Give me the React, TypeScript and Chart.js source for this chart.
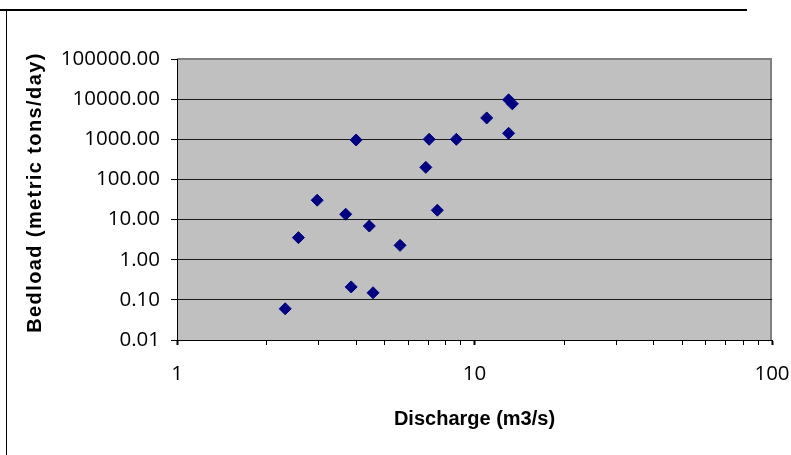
import React, { useEffect, useRef } from 'react';
import { Chart, registerables } from 'chart.js';

Chart.register(...registerables);

// Data
const discharge = [2.31, 2.56, 2.96, 3.69, 3.85, 4.0, 4.43, 4.56, 5.62, 6.86, 7.04, 7.5, 8.69, 10.99, 13.02, 13.02, 13.4];
const bedload = [0.06, 3.55, 30.4, 13.6, 0.21, 960, 6.9, 0.15, 2.28, 200, 1000, 17.1, 1000, 3400, 1410, 9600, 7630];

const yTicks = [0.01, 0.1, 1, 10, 100, 1000, 10000, 100000];
const xMajorTicks = [1, 10, 100];
const xTitle = 'Discharge (m3/s)';
const yTitle = 'Bedload (metric tons/day)';

const xTickValues: number[] = [];
for (let i = 0; i < xMajorTicks.length - 1; i++) {
  for (let m = 1; m <= 9; m++) xTickValues.push(xMajorTicks[i] * m);
}
xTickValues.push(xMajorTicks[xMajorTicks.length - 1]);

const tickFont = { family: '"Open Sans", "Noto Sans", sans-serif', size: 20.5 };
const titleFamily = '"Liberation Sans", Arial, sans-serif';

const framePlugin = {
  id: 'frame',
  beforeDraw(chart: any) {
    const { ctx, chartArea } = chart;
    const { left, top, right, bottom } = chartArea;
    ctx.save();
    ctx.fillStyle = '#ffffff';
    ctx.fillRect(0, 0, chart.width, chart.height);
    // outer frame lines
    ctx.fillStyle = '#000000';
    ctx.fillRect(0, 9, 747, 2);
    ctx.fillRect(6, 10, 1, chart.height - 10);
    // plot background
    ctx.fillStyle = '#C0C0C0';
    ctx.fillRect(left, top, right - left, bottom - top);
    // plot border (gray)
    ctx.strokeStyle = '#808080';
    ctx.lineWidth = 2;
    ctx.beginPath();
    ctx.moveTo(left, top);
    ctx.lineTo(right - 1, top);
    ctx.lineTo(right - 1, bottom);
    ctx.stroke();
    ctx.restore();
  },
  afterDraw(chart: any) {
    const { ctx } = chart;
    ctx.save();
    ctx.translate(35, 192.5);
    ctx.rotate(-Math.PI / 2);
    ctx.font = 'bold 20px ' + titleFamily;
    try { (ctx as any).letterSpacing = '1.4px'; } catch (e) {}
    ctx.fillStyle = '#000000';
    ctx.textAlign = 'center';
    ctx.textBaseline = 'middle';
    ctx.fillText(yTitle, 0, 0);
    ctx.restore();
  },
};

export default function App() {
  const canvasRef = useRef<HTMLCanvasElement | null>(null);

  useEffect(() => {
    if (!canvasRef.current) return;
    const chart = new Chart(canvasRef.current, {
      type: 'scatter',
      data: {
        datasets: [
          {
            data: discharge.map((x, i) => ({ x, y: bedload[i] })),
            pointStyle: 'rectRot',
            pointRadius: 6,
            pointBackgroundColor: '#000080',
            pointBorderColor: '#000080',
            pointBorderWidth: 1,
          },
        ],
      },
      options: {
        responsive: false,
        animation: false,
        layout: { padding: { left: 0, top: 59, right: 19, bottom: 0 } },
        plugins: { legend: { display: false }, tooltip: { enabled: false } },
        scales: {
          x: {
            type: 'logarithmic',
            position: 'bottom',
            min: 1,
            max: 100,
            afterBuildTicks: (s: any) => {
              s.ticks = xTickValues.map((v) => ({ value: v }));
            },
            afterFit: (s: any) => {
              s.height = 115;
              s.paddingLeft = 0;
              s.paddingRight = 0;
            },
            ticks: {
              autoSkip: false,
              maxRotation: 0,
              minRotation: 0,
              padding: 17,
              color: '#000000',
              font: tickFont,
              callback: (v: any) => (xMajorTicks.includes(Number(v)) ? String(v) : ''),
            },
            grid: {
              drawOnChartArea: false,
              drawTicks: true,
              tickLength: 5,
              color: '#000000',
              lineWidth: 1,
              tickWidth: (c: any) => (c.tick && xMajorTicks.includes(c.tick.value) ? 2 : 1),
            },
            border: { display: true, color: '#000000', width: 1 },
            title: {
              display: true,
              text: xTitle,
              color: '#000000',
              font: { family: titleFamily, size: 20, weight: 'bold' },
              padding: { top: 0, bottom: 24 },
            },
          },
          y: {
            type: 'logarithmic',
            min: 0.01,
            max: 100000,
            afterBuildTicks: (s: any) => {
              s.ticks = yTicks.map((v) => ({ value: v }));
            },
            afterFit: (s: any) => {
              s.width = 177;
              s.paddingTop = 0;
              s.paddingBottom = 0;
            },
            ticks: {
              padding: 11,
              color: '#000000',
              font: tickFont,
              callback: (v: any) => Number(v).toFixed(2),
            },
            grid: {
              color: (c: any) => (c.tick && c.tick.value === 100000 ? '#808080' : '#1a1a1a'),
              tickColor: '#000000',
              tickLength: 6,
              lineWidth: 1,
            },
            border: { display: true, color: '#000000', width: 1 },
          },
        },
      },
      plugins: [framePlugin],
    } as any);
    return () => chart.destroy();
  }, []);

  return (
    <div style={{ position: 'absolute', left: 0, top: 0, width: 791, height: 455 }}>
      <canvas ref={canvasRef} width={791} height={455} style={{ display: 'block' }} />
    </div>
  );
}
